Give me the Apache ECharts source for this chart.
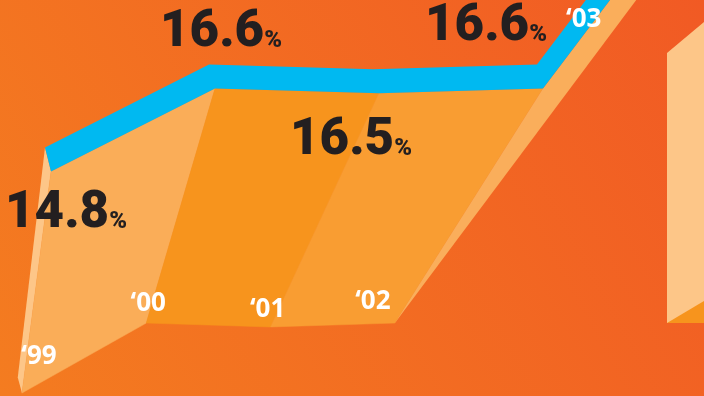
<!DOCTYPE html>
<html>
<head>
<meta charset="utf-8">
<script src="https://cdn.jsdelivr.net/npm/echarts@6/dist/echarts.min.js"></script>
<style>html,body{margin:0;padding:0;background:#F26A22;}#c{width:704px;height:396px;}</style>
</head>
<body>
<div id="c"></div>
<script>
// ---- data ----
const years = ['\u201899', '\u201800', '\u201801', '\u201802', '\u201803'];
const values = [14.8, 16.6, 16.5, 16.6, 21.3];

// ---- style ----
const BAND_DX = 6, BAND_DY = 24;           // thickness of the blue top edge
const FSX = 0.758, FX0 = -16.7;            // perspective floor projection
const FSY = 0.843, FY0 = 248.4;
const faceColors = ['#FAAD58', '#F7941D', '#F99D32'];
const stripColor = '#FAAE5B';
const endColor = '#FDC688';
const bandColor = '#00B9F1';
const textDark = '#231F20';
const valueOffsets = [[21, 67], [12, -31], [-22, 73], [-51, -37], [0, 0]];
const yearOffsets = [[17, -36], [2, -19], [-3, -17], [-22, -21]];

function renderItem(params, api) {
  if (params.dataIndexInside !== 0) return null;
  const n = params.dataInsideLength;
  const tops = [], bots = [], floors = [];
  for (let i = 0; i < n; i++) {
    const p = api.coord([api.value(0, i), api.value(1, i)]);
    const b = [p[0] + BAND_DX, p[1] + BAND_DY];
    tops.push(p); bots.push(b);
    floors.push([FX0 + FSX * b[0], FY0 + FSY * b[1]]);
  }
  const children = [];
  // end face at first point
  const f0 = floors[0];
  children.push({type: 'polygon', shape: {points: [tops[0], bots[0], f0,
      [f0[0] + 0.7 * (tops[0][0] - bots[0][0]), f0[1] + 0.65 * (tops[0][1] - bots[0][1])]]},
    style: {fill: endColor}});
  // side faces
  for (let i = 0; i < n - 2; i++) {
    children.push({type: 'polygon', shape: {points: [bots[i], bots[i + 1], floors[i + 1], floors[i]]},
      style: {fill: faceColors[i % faceColors.length], stroke: faceColors[i % faceColors.length], lineWidth: 0.5}});
  }
  // rising last segment seen edge-on
  const a = bots[n - 2], b = bots[n - 1], d = floors[n - 2];
  children.push({type: 'polygon', shape: {points: [d, a, b, [b[0] + 25, b[1]]]}, style: {fill: stripColor}});
  // blue top band
  children.push({type: 'polygon', shape: {points: tops.concat(bots.slice().reverse())}, style: {fill: bandColor}});
  // value labels
  for (let i = 0; i < n; i++) {
    if (tops[i][1] < 0) continue;
    const o = valueOffsets[i];
    children.push({type: 'text', style: {
      text: '{n|' + api.value(1, i).toFixed(1) + '}{p|%}',
      x: tops[i][0] + o[0], y: tops[i][1] + o[1], align: 'center', verticalAlign: 'middle',
      rich: {
        n: {fontSize: 51, fontWeight: 900, fontFamily: 'Roboto', fill: textDark, lineHeight: 50, verticalAlign: 'bottom'},
        p: {fontSize: 24, fontWeight: 900, fontFamily: 'Roboto', fill: textDark, lineHeight: 50, verticalAlign: 'bottom', padding: [0,0,6,0]}
      }}});
  }
  // year labels
  const yStyle = {fontSize: 26, fontWeight: 'bold', fontFamily: 'Open Sans', fill: '#FFFFFF', align: 'center', verticalAlign: 'middle'};
  for (let i = 0; i < n - 1; i++) {
    const o = yearOffsets[i];
    children.push({type: 'text', style: Object.assign({text: years[i], x: floors[i][0] + o[0], y: floors[i][1] + o[1]}, yStyle)});
  }
  // last year label where the band leaves the top
  const p3 = tops[n - 2], p4 = tops[n - 1];
  const yy = 20;
  const t = (p3[1] - yy) / (p3[1] - p4[1]);
  children.push({type: 'text', style: Object.assign({text: years[n - 1],
    x: p3[0] + t * (p4[0] - p3[0]) + 13, y: yy}, yStyle)});
  return {type: 'group', children: children};
}

const chart = echarts.init(document.getElementById('c'), null, {renderer: 'canvas'});
chart.setOption({
  animation: false,
  backgroundColor: {type: 'linear', x: 0, y: 1, x2: 1, y2: 0,
    colorStops: [{offset: 0, color: '#F47C20'}, {offset: 1, color: '#F15A24'}]},
  grid: {left: 45, width: 656, top: 0, height: 369},
  xAxis: {type: 'category', data: years, boundaryGap: false, show: false},
  yAxis: {type: 'value', min: 10, max: 18, show: false, splitLine: {show: false}},
  graphic: [
    {type: 'polygon', shape: {points: [[667, 53], [704, 22], [704, 323], [667, 323]]}, style: {fill: '#FDC688'}, z: 1},
    {type: 'polygon', shape: {points: [[667, 323], [704, 301], [704, 323]]}, style: {fill: '#F7941D'}, z: 1}
  ],
  series: [{
    type: 'custom',
    renderItem: renderItem,
    clip: false,
    encode: {x: 0, y: 1},
    data: values.map((v, i) => [i, v])
  }]
});
</script>
</body>
</html>
